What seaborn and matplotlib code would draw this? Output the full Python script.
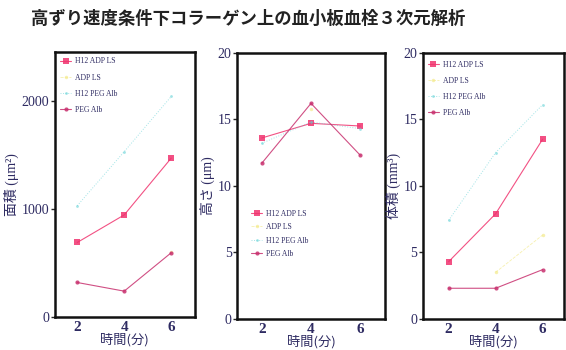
import numpy as np
import pandas as pd
import matplotlib
matplotlib.use("Agg")
import matplotlib.pyplot as plt
import seaborn as sns

# data (nan = not visible)
times = [2, 4, 6]
series_names = ["H12 ADP LS", "ADP LS", "H12 PEG Alb", "PEG Alb"]

area_h12_adp = [690, 945, 1470]
area_adp = [np.nan, np.nan, 600]
area_h12_peg = [1030, 1530, 2040]
area_peg = [320, 240, 595]

height_h12_adp = [13.6, 14.7, 14.5]
height_adp = [np.nan, 15.8, np.nan]
height_h12_peg = [13.2, 14.8, 14.3]
height_peg = [11.7, 16.2, 12.3]

vol_h12_adp = [4.3, 7.9, 13.5]
vol_adp = [np.nan, 3.5, 6.3]
vol_h12_peg = [7.4, 12.5, 16.1]
vol_peg = [2.3, 2.3, 3.7]

title = "高ずり速度条件下コラーゲン上の血小板血栓３次元解析"
xlabel = "時間(分)"
ylabels = ["面積 (μm²)", "高さ (μm)", "体積 (mm³)"]

sns.set_style("white")
plt.rcParams["font.family"] = ["Liberation Serif", "Noto Sans CJK JP", "DejaVu Sans"]

navy = "#2e2b62"
styles = {
    "H12 ADP LS": dict(color="#f0336e", ls="-", marker="s", ms=4.5, lw=0.8, alpha=0.85),
    "ADP LS": dict(color="#f3ea8c", ls="--", marker="o", ms=2.5, lw=0.6, alpha=0.7),
    "H12 PEG Alb": dict(color="#63d2d6", ls=":", marker="o", ms=2, lw=0.7, alpha=0.6),
    "PEG Alb": dict(color="#c8306e", ls="-", marker="o", ms=3, lw=0.8, alpha=0.85),
}

panels = [
    dict(vals=[area_h12_adp, area_adp, area_h12_peg, area_peg],
         rect=[0.097, 0.094, 0.247, 0.757], xlim=(1.05, 7.0), ylim=(0, 2450),
         yticks=[0, 1000, 2000], leg_anchor=(0.0, 1.0), leg_space=1.05),
    dict(vals=[height_h12_adp, height_adp, height_h12_peg, height_peg],
         rect=[0.419, 0.089, 0.261, 0.76], xlim=(1.0, 7.0), ylim=(0, 20),
         yticks=[0, 5, 10, 15, 20], leg_anchor=(0.06, 0.43), leg_space=0.7),
    dict(vals=[vol_h12_adp, vol_adp, vol_h12_peg, vol_peg],
         rect=[0.747, 0.089, 0.249, 0.76], xlim=(0.9, 6.9), ylim=(0, 20),
         yticks=[0, 5, 10, 15, 20], leg_anchor=(0.0, 0.99), leg_space=1.05),
]

fig = plt.figure(figsize=(5.66, 3.5), dpi=100)

for p, ylab in zip(panels, ylabels):
    ax = fig.add_axes(p["rect"])
    for name, vals in zip(series_names, p["vals"]):
        df = pd.DataFrame({"t": times, "v": vals})
        st = styles[name]
        sns.lineplot(data=df, x="t", y="v", ax=ax, color=st["color"],
                     linestyle=st["ls"], marker=st["marker"], markersize=st["ms"],
                     linewidth=st["lw"], alpha=st["alpha"], markeredgewidth=0,
                     label=name)
    ax.set_xlim(*p["xlim"])
    ax.set_ylim(*p["ylim"])
    ax.set_xticks(times)
    ax.set_yticks(p["yticks"])
    ax.tick_params(axis="x", length=0, labelsize=11, labelcolor=navy, pad=3)
    ax.tick_params(axis="y", length=3, width=1, direction="out", labelsize=10,
                   labelcolor=navy, pad=1, left=True)
    for lab in ax.get_xticklabels():
        lab.set_fontweight("bold")
    for sp in ax.spines.values():
        sp.set_linewidth(1.8)
        sp.set_color("#111111")
    ax.set_xlabel(xlabel, fontsize=9.5, color=navy, labelpad=-1,
                  family=["Noto Sans CJK JP", "DejaVu Sans"])
    ax.set_ylabel(ylab, fontsize=10, color=navy, labelpad=2)
    leg = ax.legend(loc="upper left", bbox_to_anchor=p["leg_anchor"], frameon=False,
                    fontsize=5.5, handlelength=1.4, handletextpad=0.5,
                    labelspacing=p["leg_space"], borderaxespad=0.3)
    for t in leg.get_texts():
        t.set_color(navy)

fig.text(0.055, 0.945, title, fontsize=12.5, fontweight="bold", color="#222222",
         family=["Noto Sans CJK JP", "DejaVu Sans"], ha="left", va="center")

fig.savefig("out.png", dpi=100)
